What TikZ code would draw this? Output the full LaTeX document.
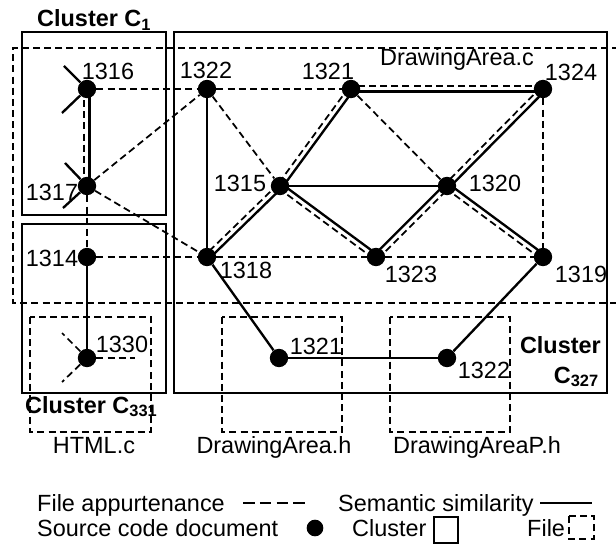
\documentclass[tikz,border=0pt]{standalone}
\usepackage{fontspec}
\setmainfont{Liberation Sans}
\usetikzlibrary{calc,positioning}

% solid (semantic) and dashed (file) edge side by side
\newcommand{\pairedge}[2]{%
  \draw[semline] ($(#1)!0.8mm!90:(#2)$) -- ($(#2)!0.8mm!-90:(#1)$);
  \draw[fileline] ($(#1)!0.8mm!-90:(#2)$) -- ($(#2)!0.8mm!90:(#1)$);
}

\begin{document}
\begin{tikzpicture}[x=0.03cm, y=-0.03cm,
    doc/.style={circle, fill=black, inner sep=0pt, minimum size=0.55cm},
    num/.style={inner sep=0pt, font=\fontsize{20}{24}\selectfont},
    txt/.style={inner sep=0pt, font=\fontsize{20}{24}\selectfont},
    clabel/.style={inner sep=0pt, font=\fontsize{20}{25}\selectfont\bfseries},
    cluster/.style={draw, line width=2.4pt},
    filebox/.style={draw, line width=1.5pt, dash pattern=on 6pt off 3.5pt},
    semline/.style={line width=2pt},
    fileline/.style={line width=1.5pt, dash pattern=on 6pt off 3.5pt}
]
\useasboundingbox (0,0) rectangle (616,544);

% Clusters
\draw[cluster] (22,32) rectangle (166,215);
\draw[cluster] (22,224) rectangle (166,393);
\draw[cluster] (174,32) rectangle (607,393);

% Files
\draw[filebox] (630,48) -- (13,48) -- (13,303) -- (630,303);
\draw[filebox] (30,317) rectangle (151,432);
\draw[filebox] (222,317) rectangle (342,432);
\draw[filebox] (390,317) rectangle (510,432);

% Source code documents
\node[doc] (d1316) at (87,89) {};
\node[doc] (d1322) at (207,89) {};
\node[doc] (d1321) at (351,89) {};
\node[doc] (d1324) at (543,89) {};
\node[doc] (d1317) at (87,186) {};
\node[doc] (d1315) at (280,186) {};
\node[doc] (d1320) at (447,186) {};
\node[doc] (d1314) at (87,257) {};
\node[doc] (d1318) at (207,257) {};
\node[doc] (d1323) at (376,257) {};
\node[doc] (d1319) at (543,257) {};
\node[doc] (d1330) at (87,358) {};
\node[doc] (d1321h) at (279,358) {};
\node[doc] (d1322p) at (447,358) {};

% Free ends of the stubs
\coordinate (s1316a) at (64,66);
\coordinate (s1316b) at (62,113);
\coordinate (s1317a) at (65,163);
\coordinate (s1317b) at (63,208);
\coordinate (s1330a) at (62,333);
\coordinate (s1330b) at (62,382);
\coordinate (s1330c) at (135,358);

% File appurtenance
\draw[fileline] (d1316) -- (d1322);
\draw[fileline] (d1322) -- (d1321);
\draw[fileline] (d1317) -- (d1314);
\draw[fileline] (d1317) -- (d1322);
\draw[fileline] (d1317) -- (d1318);
\draw[fileline] (d1314) -- (d1318);
\draw[fileline] (d1318) -- (d1323);
\draw[fileline] (d1323) -- (d1319);
\draw[fileline] (d1322) -- (d1315);
\draw[fileline] (d1321) -- (d1320);
\draw[fileline] (d1324) -- (d1319);
\draw[fileline] (d1330) -- (s1330a);
\draw[fileline] (d1330) -- (s1330b);
\draw[fileline] (d1330) -- (s1330c);

% Semantic similarity
\draw[semline] (d1322) -- (d1318);
\draw[semline] (d1315) -- (d1320);
\draw[semline] (d1314) -- (d1330);
\draw[semline] (d1318) -- (d1321h);
\draw[semline] (d1321h) -- (d1322p);
\draw[semline] (d1322p) -- (d1319);
\draw[semline] (d1316) -- (s1316a);
\draw[semline] (d1316) -- (s1316b);
\draw[semline] (d1317) -- (s1317a);
\draw[semline] (d1317) -- (s1317b);

% Both relations
\pairedge{d1316}{d1317}
\pairedge{d1324}{d1321}
\pairedge{d1321}{d1315}
\pairedge{d1315}{d1318}
\pairedge{d1315}{d1323}
\pairedge{d1324}{d1320}
\pairedge{d1323}{d1320}
\pairedge{d1320}{d1319}

% Document numbers
\node[num] (l1316) at (108,71) {1316};
\node[num] (l1322) at (206,70) {1322};
\node[num] (l1321) at (328,71) {1321};
\node[num] (l1324) at (571,72) {1324};
\node[num] (l1317) at (52,192) {1317};
\node[num] (l1315) at (240,183) {1315};
\node[num] (l1320) at (495,183) {1320};
\node[num] (l1314) at (52,258) {1314};
\node[num] (l1318) at (246,270) {1318};
\node[num] (l1323) at (411,274) {1323};
\node[num] (l1319) at (581,274) {1319};
\node[num] (l1330) at (122,344) {1330};
\node[num] (l1321h) at (316,346) {1321};
\node[num] (l1322p) at (484,370) {1322};

% Cluster labels
\node[clabel, anchor=base west] (c1) at (37,27) {Cluster C\textsubscript{1}};
\node[clabel, anchor=base west] (c331) at (25,413) {Cluster C\textsubscript{331}};
\node[clabel, anchor=base east] (c327a) at (601,354) {Cluster};
\node[clabel, anchor=base east] (c327b) at (599,383) {C\textsubscript{327}};

% File labels
\node[txt, anchor=base] (fdac) at (457,66) {DrawingArea.c};
\node[txt, anchor=base] (fhtml) at (94,453) {HTML.c};
\node[txt, anchor=base] (fdah) at (274,453) {DrawingArea.h};
\node[txt, anchor=base] (fdaph) at (477,453) {DrawingAreaP.h};

% Legend
\node[txt, anchor=base west] (kfile) at (37,511) {File appurtenance};
\coordinate (kfa) at (243,503);
\coordinate (kfb) at (305,503);
\draw[line width=1.5pt, dash pattern=on 10pt off 4.3pt] (kfa) -- (kfb);
\node[txt, anchor=base west] (ksem) at (338,511) {Semantic similarity};
\coordinate (ksa) at (540,503);
\coordinate (ksb) at (592,503);
\draw[semline] (ksa) -- (ksb);
\node[txt, anchor=base west] (kdoc) at (37,536) {Source code document};
\node[doc, minimum size=0.5cm] (kdot) at (315,528) {};
\node[txt, anchor=base west] (kclu) at (352,536) {Cluster};
\draw[cluster] (434,517) rectangle (458,543);
\node[txt, anchor=base west] (kfil) at (527,536) {File};
\draw[filebox] (569,516) rectangle (594,539);

\end{tikzpicture}
\end{document}
